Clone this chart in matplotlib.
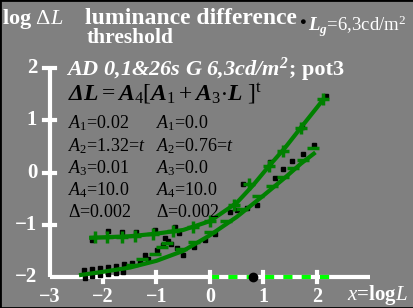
import numpy as np
import matplotlib
matplotlib.use("Agg")
import matplotlib.pyplot as plt

plt.rcParams['font.family'] = ['Liberation Serif', 'DejaVu Serif']
plt.rcParams['mathtext.fontset'] = 'custom'
plt.rcParams['mathtext.rm'] = 'Liberation Serif'
plt.rcParams['mathtext.it'] = 'Liberation Serif:italic'
plt.rcParams['mathtext.bf'] = 'Liberation Serif:bold:italic'
plt.rcParams['mathtext.fallback'] = 'stix'

# fitted curves (log L, log dL)
upper_x = [-2.22, -1.5, -1.0, -0.5, 0.0, 0.5, 0.8, 1.1, 1.4, 1.7, 2.12]
upper_y = [-1.25, -1.22, -1.17, -1.10, -0.93, -0.58, -0.25, 0.12, 0.47, 0.86, 1.40]
lower_x = [-2.41, -2.0, -1.5, -1.0, -0.5, 0.0, 0.5, 1.0, 1.4, 1.7, 1.94]
lower_y = [-1.96, -1.90, -1.82, -1.69, -1.50, -1.20, -0.85, -0.44, -0.10, 0.17, 0.36]

# data markers
plus_x = [-2.15, -1.93, -1.65, -1.40, -1.07, -0.70, -0.32, 0.0, 0.45, 0.72, 1.10, 1.36, 1.70, 2.12]
plus_y = [-1.24, -1.24, -1.23, -1.21, -1.17, -1.12, -1.05, -0.93, -0.62, -0.22, 0.12, 0.42, 0.86, 1.40]
dash_x = [-1.46, -1.27, -1.03, -0.90, -0.80, -0.55, -0.30, 0.0, 0.30, 0.60, 0.90, 1.15, 1.36, 1.55, 1.74, 1.93]
dash_y = [-1.77, -1.66, -1.56, -1.43, -1.35, -1.46, -1.33, -1.13, -0.93, -0.70, -0.45, -0.25, -0.08, 0.09, 0.24, 0.47]

dots_x = [-2.21, -1.91, -1.64, -1.38, -1.03, -0.65, -0.58,
          -0.84, -0.78, -0.72,
          -2.35, -2.2, -2.05, -1.9, -1.75, -1.6, -1.45, -1.3, -1.15,
          -2.34, -2.2, -2.05, -1.9, -1.75, -1.63,
          -1.21, -0.99, -0.88, -0.62, -0.50, -0.30, -0.10, 0.10,
          0.37, 0.50, 0.69, 0.88, 0.62,
          2.17, 1.94, 1.74, 1.54, 1.36, 1.21, 1.12, 1.72]
dots_y = [-1.29, -1.12, -1.13, -1.13, -1.11, -1.05, -1.15,
          -1.26, -1.31, -1.37,
          -1.87, -1.85, -1.83, -1.81, -1.79, -1.76, -1.73, -1.70, -1.66,
          -2.01, -1.99, -1.97, -1.95, -1.93, -1.90,
          -1.58, -1.48, -1.38, -1.44, -1.58, -1.42, -1.30, -1.17,
          -0.76, -0.71, -0.67, -0.63, -0.22,
          1.46, 0.53, 0.36, 0.22, 0.06, -0.10, 0.20, 0.87]

xticks = [-3, -2, -1, 0, 1, 2]
yticks = [-2, -1, 0, 1, 2]
xlabels = ['\u22123', '\u22122', '\u22121', '0', '1', '2']
ylabels = ['\u22122', '\u22121', '0', '1', '2']

col1 = [r'$A_1$=0.02', r'$A_2$=1.32=$t$', r'$A_3$=0.01', r'$A_4$=10.0', r'$\Delta$=0.002']
col2 = [r'$A_1$=0.0', r'$A_2$=0.76=$t$', r'$A_3$=0.0', r'$A_4$=10.0', r'$\Delta$=0.002']

W, H = 414, 308
fig = plt.figure(figsize=(W / 100, H / 100), dpi=100)
fig.patch.set_facecolor('#808080')
ax = fig.add_axes([0, 0, 1, 1])
ax.set_facecolor('#808080')
ax.set_xlim(-210 / 53.5, (W - 210) / 53.5)
ax.set_ylim(-2 - (H - 277) / 52.25, -2 + 277 / 52.25)
ax.set_xticks([])
ax.set_yticks([])
for s in ax.spines.values():
    s.set_color('black')
    s.set_linewidth(2)

# axes drawn by hand
ax.plot([-3, 3], [-2, -2], color='white', lw=3, solid_capstyle='butt', zorder=2)
ax.plot([-3, -3], [-2, 2], color='white', lw=3, solid_capstyle='butt', zorder=2)
ax.plot([0, 2.3], [-2, -2], color='#00ff00', lw=3, dashes=(2.2, 2.2), zorder=3)
for t in xticks[1:]:
    ax.plot([t, t], [-2.1, -1.9], color='white', lw=3, zorder=3)
for t in yticks[1:]:
    ax.plot([-3.1, -2.9], [t, t], color='white', lw=3, zorder=3)
ax.plot([0.8], [-2], 'o', color='black', ms=6, zorder=4)

# data
ax.plot(dots_x, dots_y, 's', color='black', ms=2.4, zorder=4)
ax.plot(upper_x, upper_y, color='#008000', lw=3, zorder=5)
ax.plot(lower_x, lower_y, color='#008000', lw=3, zorder=5)
ax.plot(plus_x, plus_y, '+', color='#008000', ms=9, mew=2.5, zorder=6)
ax.plot(dash_x, dash_y, '_', color='#008000', ms=9, mew=2.5, zorder=6)


def T(px, py, s, **kw):
    fig.text(px / W, 1 - py / H, s, **kw)


wb = dict(color='white', fontweight='bold')
T(2, 24, r'log $\Delta L$', fontsize=16, va='baseline', **wb)
T(85, 24, 'luminance difference', fontsize=17, va='baseline', **wb)
T(87, 43, 'threshold', fontsize=15.5, va='baseline', **wb)
T(302, 23, '\u25cf', fontsize=8, color='black', ha='center', va='center')
T(308, 31, r'$\mathbf{L}_{\mathrm{\mathbf{g}}}$=6,3cd/m$^2$', fontsize=13.5, color='white', va='baseline')
T(66, 75, r'AD 0,1&26s G 6,3cd/m$^{\mathbf{2}}$', fontsize=16, va='baseline',
  fontstyle='italic', **wb)
T(289, 75, '; pot3', fontsize=16, va='baseline', **wb)
T(68, 100, r'$\mathbf{\Delta L} = \mathbf{A}_{\rm 4}[\mathbf{A}_{\rm 1} + \mathbf{A}_{\rm 3}{\cdot}\mathbf{L}\ ]^{\rm t}$',
  fontsize=17, color='black', va='baseline')

rows = [128, 151, 173, 195, 217]
for r, a, b in zip(rows, col1, col2):
    T(68, r, a, fontsize=13, color='black', va='baseline')
    T(156, r, b, fontsize=13, color='black', va='baseline')

for t, lab in zip(yticks, ylabels):
    ax.text(-3.23, t, lab, fontsize=15, ha='right', va='center', **wb)
for t, lab in zip(xticks, xlabels):
    ax.text(t, -2.39, lab, fontsize=14.5, ha='center', va='center', **wb)
T(347, 300, r'$x$=log$L$', fontsize=15, va='baseline', **wb)

fig.savefig('out.png', dpi=100, facecolor=fig.get_facecolor())
